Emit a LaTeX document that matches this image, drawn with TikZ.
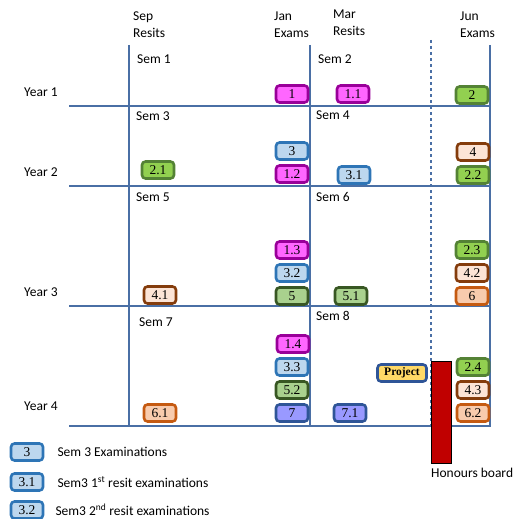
\documentclass[tikz,border=0pt]{standalone}
\usepackage{fontspec}
\setmainfont{Carlito}
\newfontfamily\boxfont{Liberation Serif}
\usepackage{xcolor}
\usetikzlibrary{positioning}
\definecolor{gridblue}{HTML}{4A6FA5}
\definecolor{magfill}{HTML}{FF66FF}
\definecolor{magdraw}{HTML}{990099}
\definecolor{bluefill}{HTML}{BDD7EE}
\definecolor{bluedraw}{HTML}{2E75B6}
\definecolor{greenfill}{HTML}{92D050}
\definecolor{greendraw}{HTML}{548235}
\definecolor{brownfill}{HTML}{FCE4D6}
\definecolor{browndraw}{HTML}{843C0C}
\definecolor{olivefill}{HTML}{A9D18E}
\definecolor{olivedraw}{HTML}{385723}
\definecolor{orangefill}{HTML}{F8CBAD}
\definecolor{orangedraw}{HTML}{C55A11}
\definecolor{violetfill}{HTML}{9999FF}
\definecolor{violetdraw}{HTML}{2F5597}
\definecolor{projfill}{HTML}{FFD966}
\definecolor{boardred}{HTML}{C00000}
\tikzset{
    exambox/.style={rectangle, rounded corners=3.5pt, line width=2.6pt,
        minimum width=32pt, minimum height=17pt, inner sep=0pt,
        font=\boxfont\fontsize{13.5}{13.5}\selectfont},
    magbox/.style={exambox, fill=magfill, draw=magdraw},
    bluebox/.style={exambox, fill=bluefill, draw=bluedraw},
    greenbox/.style={exambox, fill=greenfill, draw=greendraw},
    brownbox/.style={exambox, fill=brownfill, draw=browndraw},
    olivebox/.style={exambox, fill=olivefill, draw=olivedraw},
    orangebox/.style={exambox, fill=orangefill, draw=orangedraw},
    violetbox/.style={exambox, fill=violetfill, draw=violetdraw},
    label/.style={anchor=west, inner sep=0pt, font=\fontsize{13.5}{17}\selectfont},
    head/.style={anchor=north west, inner sep=0pt, align=left,
        font=\fontsize{13.5}{17}\selectfont},
    grid/.style={draw=gridblue, line width=1.6pt}
}
\begin{document}
\begin{tikzpicture}[x=1pt,y=-1pt]
    \useasboundingbox (0,0) rectangle (517,519);
    % column headings
    \node[head] (sep) at (133,12) {Sep\\Resits};
    \node[head] (jan) at (274,12) {Jan\\Exams};
    \node[head] (mar) at (333,10) {Mar\\Resits};
    \node[head] (jun) at (460,12) {Jun\\Exams};
    % grid
    \draw[grid] (129,45) -- (129,426);
    \draw[grid] (310,45) -- (310,427);
    \draw[grid] (490,45) -- (490,427);
    \draw[grid, line width=1.3pt, dashed] (431,40) -- (431,426);
    \foreach \y in {106,186,306,426}
        \draw[grid] (69,\y) -- (490,\y);
    % years and semesters
    \node[label] (year1) at (24,92) {Year 1};
    \node[label] (year2) at (24,172) {Year 2};
    \node[label] (year3) at (24,292) {Year 3};
    \node[label] (year4) at (24,406) {Year 4};
    \node[label] (sem1) at (137,59) {Sem 1};
    \node[label] (sem3) at (136,116) {Sem 3};
    \node[label] (sem5) at (136,197) {Sem 5};
    \node[label] (sem7) at (139,322) {Sem 7};
    \node[label] (sem2) at (318,59) {Sem 2};
    \node[label] (sem4) at (316,115) {Sem 4};
    \node[label] (sem6) at (316,197) {Sem 6};
    \node[label] (sem8) at (316,316) {Sem 8};
    % year 1
    \node[magbox] (b1) at (292,94) {1};
    \node[magbox] (b11) at (353,94) {1.1};
    \node[greenbox] (b2) at (472,95) {2};
    % year 2
    \node[greenbox] (b21) at (158,170) {2.1};
    \node[bluebox] (b3) at (292,151) {3};
    \node[magbox] (b12) at (292,174) {1.2};
    \node[bluebox] (b31) at (354,175) {3.1};
    \node[brownbox] (b4) at (473,152) {4};
    \node[greenbox] (b22) at (473,175) {2.2};
    % year 3
    \node[brownbox] (b41) at (160,295) {4.1};
    \node[magbox] (b13) at (292,250) {1.3};
    \node[bluebox] (b32) at (292,273) {3.2};
    \node[olivebox] (b5) at (292,296) {5};
    \node[olivebox] (b51) at (351,296) {5.1};
    \node[greenbox] (b23) at (472,250) {2.3};
    \node[brownbox] (b42) at (472,273) {4.2};
    \node[orangebox] (b6) at (472,296) {6};
    % year 4
    \node[orangebox] (b61) at (160,413) {6.1};
    \node[magbox] (b14) at (293,344) {1.4};
    \node[bluebox] (b33) at (292,367) {3.3};
    \node[olivebox] (b52) at (292,390) {5.2};
    \node[violetbox] (b7) at (292,413) {7};
    \node[violetbox] (b71) at (350,413) {7.1};
    \node[greenbox] (b24) at (473,367) {2.4};
    \node[brownbox] (b43) at (473,390) {4.3};
    \node[orangebox] (b62) at (473,413) {6.2};
    \node[exambox, fill=projfill, draw=violetdraw, minimum width=49pt,
        font=\boxfont\bfseries\fontsize{11.5}{11.5}\selectfont] (project) at (402,373) {Project};
    % honours board
    \draw[fill=boardred, draw=black, line width=1pt] (431,361) rectangle (451,463);
    \node[label] (honours) at (431,473) {Honours board};
    % legend
    \node[bluebox] (lg3) at (27,452) {3};
    \node[bluebox] (lg31) at (27,482) {3.1};
    \node[bluebox] (lg32) at (27,510) {3.2};
    \node[label, right=13pt of lg3] (lgt3) {Sem 3 Examinations};
    \node[label, right=13pt of lg31] (lgt31) {Sem3 1\textsuperscript{st} resit examinations};
    \node[label, right=11pt of lg32] (lgt32) {Sem3 2\textsuperscript{nd} resit examinations};
\end{tikzpicture}
\end{document}
